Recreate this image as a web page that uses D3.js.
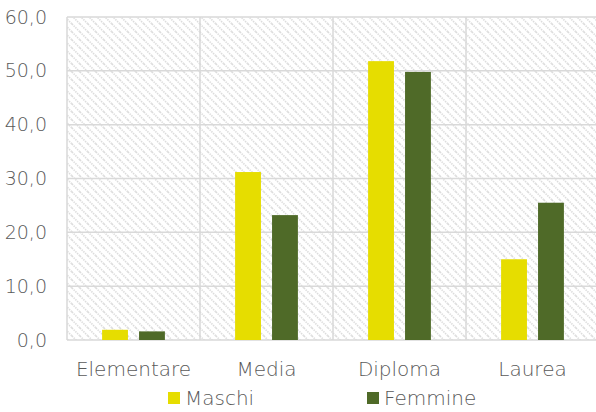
<!DOCTYPE html>
<html><head><meta charset="utf-8">
<script src="https://cdn.jsdelivr.net/npm/d3@7"></script>
<style>body{margin:0;background:#fff}svg{display:block}text{font-family:"DejaVu Sans",sans-serif;font-weight:200;fill:#595959}</style>
</head><body>
<svg id="c" width="596" height="412"></svg>
<script>
const categories = ["Elementare","Media","Diploma","Laurea"];
const seriesNames = ["Maschi","Femmine"];
const maschi = [1.9, 31.2, 51.8, 15.0];
const femmine = [1.6, 23.2, 49.8, 25.5];
const yTicks = [0,10,20,30,40,50,60];
const colors = ["#e6dd00","#4f6a28"];

const svg = d3.select("#c");
const m = {l:67, t:17, r:599, b:340};
const x = d3.scaleBand().domain(categories).range([m.l, m.r]);
const y = d3.scaleLinear().domain([0,60]).range([m.b, m.t]);
const xs = d3.scaleBand().domain(seriesNames).range([0, x.bandwidth()]).paddingInner(0.3).paddingOuter(0.95);

const defs = svg.append("defs");
const pat = defs.append("pattern").attr("id","hatch").attr("patternUnits","userSpaceOnUse")
  .attr("width",8).attr("height",8);
pat.append("rect").attr("width",8).attr("height",8).attr("fill","#fff");
pat.append("path").attr("d","M0,0L8,8M-4,4L4,12M4,-4L12,4").attr("stroke","#dcdcdc").attr("stroke-width",1.6).attr("stroke-dasharray","1.4,1");

svg.append("rect").attr("x",m.l).attr("y",m.t).attr("width",m.r-m.l).attr("height",m.b-m.t).attr("fill","url(#hatch)");

const grid = "#d9d9d9";
svg.append("g").selectAll("line").data(yTicks).join("line")
  .attr("x1",m.l).attr("x2",m.r).attr("y1",d=>y(d)).attr("y2",d=>y(d))
  .attr("stroke",grid).attr("stroke-width",1.5);
const bounds = categories.map(c=>x(c)).concat([m.r]);
svg.append("g").selectAll("line").data(bounds).join("line")
  .attr("x1",d=>d).attr("x2",d=>d).attr("y1",m.t).attr("y2",m.b)
  .attr("stroke",grid).attr("stroke-width",1.5);

const data = [maschi, femmine];
seriesNames.forEach((s,i)=>{
  svg.append("g").selectAll("rect").data(categories).join("rect")
    .attr("x",c=>x(c)+xs(s)).attr("width",xs.bandwidth())
    .attr("y",(c,j)=>y(data[i][j])).attr("height",(c,j)=>y(0)-y(data[i][j]))
    .attr("fill",colors[i]);
});

const yAxis = svg.append("g").attr("transform",`translate(${m.l},0)`)
  .call(d3.axisLeft(y).tickValues(yTicks).tickSize(0).tickPadding(20).tickFormat(d=>d3.format(".1f")(d).replace(".",",")));
yAxis.select(".domain").remove();
yAxis.selectAll("text").style("font-size","19px").style("font-family","'DejaVu Sans'").style("font-weight","200").attr("fill","#595959");

const xAxis = svg.append("g").attr("transform",`translate(0,${m.b})`)
  .call(d3.axisBottom(x).tickSize(0).tickPadding(22));
xAxis.select(".domain").remove();
xAxis.selectAll("text").style("font-size","20px").style("font-family","'DejaVu Sans'").style("font-weight","200").attr("fill","#595959");

const legX = [168, 367];
const leg = svg.append("g").selectAll("g").data(seriesNames).join("g")
  .attr("transform",(d,i)=>`translate(${legX[i]},392)`);
leg.append("rect").attr("width",12).attr("height",12).attr("fill",(d,i)=>colors[i]);
leg.append("text").attr("x",17).attr("y",13).style("font-size","20px").text(d=>d);
</script>
</body></html>
